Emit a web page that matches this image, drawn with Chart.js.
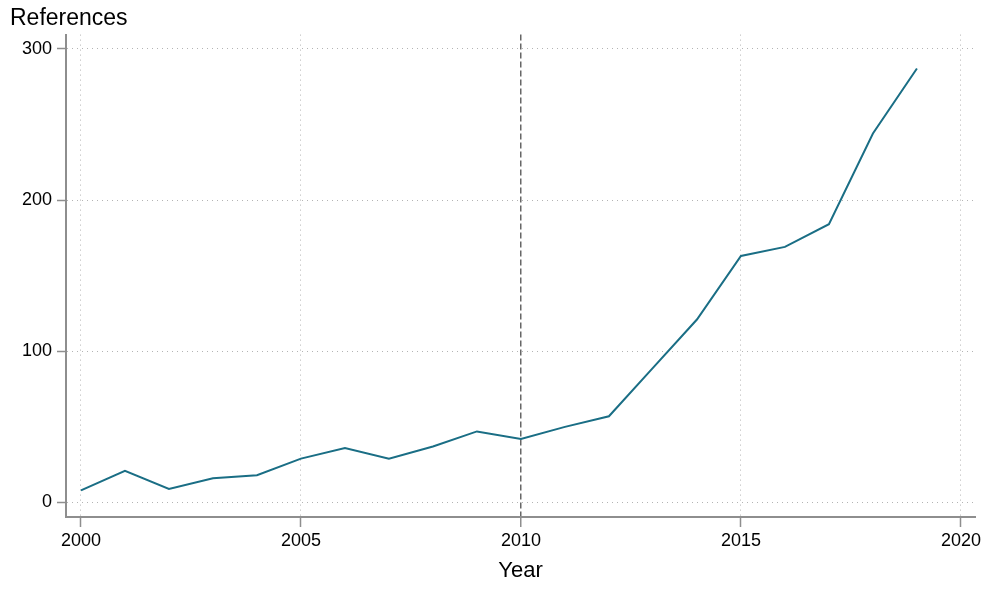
<!DOCTYPE html>
<html>
<head>
<meta charset="utf-8">
<script src="https://cdn.jsdelivr.net/npm/chart.js@4/dist/chart.umd.min.js"></script>
<style>
  html,body{margin:0;padding:0;background:#fff;}
  #wrap{width:1000px;height:597px;}
</style>
</head>
<body>
<div id="wrap"><canvas id="c" width="1000" height="597"></canvas></div>
<script>
const years = [2000,2001,2002,2003,2004,2005,2006,2007,2008,2009,2010,2011,2012,2013,2014,2015,2016,2017,2018,2019];
const refs  = [8,21,9,16,18,29,36,29,37,47,42,50,57,89,121,163,169,184,244,287];
const xTicks = [2000,2005,2010,2015,2020];
const yTicks = [0,100,200,300];
const markYear = 2010;

const FONT = 'Liberation Sans, Arial, Helvetica, sans-serif';
const axisGrey = '#8e8e8e';
const dotGrey = '#b4b4b4';

new Chart(document.getElementById('c').getContext('2d'), {
  type:'line',
  data:{datasets:[{
    label:'References',
    data: years.map((y,i)=>({x:y, y:refs[i]})),
    borderColor:'#1a6e85', borderWidth:2, pointRadius:0, tension:0, fill:false
  }]},
  options:{
    responsive:false, animation:false,
    layout:{padding:{left:10, right:25, top:0, bottom:0}},
    plugins:{
      legend:{display:false}, tooltip:{enabled:false},
      title:{display:true, text:'References', align:'start', color:'#000',
        font:{family:FONT, size:23, weight:'normal'}, padding:{top:5, bottom:2}}
    },
    scales:{
      x:{
        type:'linear', min:1999.66, max:2020.32,
        afterBuildTicks: s => { s.ticks = xTicks.map(v=>({value:v})); },
        afterFit: s => { s.height = 80; },
        ticks:{color:'#000', font:{family:FONT, size:18}, padding:3, maxRotation:0, callback:v=>String(v)},
        grid:{
          color: c => c.tick && c.tick.value===markYear ? '#666' : dotGrey,
          lineWidth: c => c.tick && c.tick.value===markYear ? 1.5 : 1,
          tickColor: axisGrey, tickLength:10, tickWidth:1.5, tickBorderDash:[]
        },
        border:{display:true, color:axisGrey, width:2,
          dash: c => c.tick && c.tick.value===markYear ? [6,3] : [1,4]},
        title:{display:true, text:'Year', color:'#000', font:{family:FONT, size:22}, padding:{top:0, bottom:13}}
      },
      y:{
        type:'linear', min:-9.6, max:309.4,
        afterBuildTicks: s => { s.ticks = yTicks.map(v=>({value:v})); },
        afterFit: s => { s.width = 56; },
        ticks:{color:'#000', font:{family:FONT, size:18}, padding:5},
        grid:{color:dotGrey, lineWidth:1, tickColor:axisGrey, tickLength:9, tickWidth:1.5, tickBorderDash:[]},
        border:{display:true, color:axisGrey, width:2, dash:[1,4]}
      }
    }
  }
});
</script>
</body>
</html>
